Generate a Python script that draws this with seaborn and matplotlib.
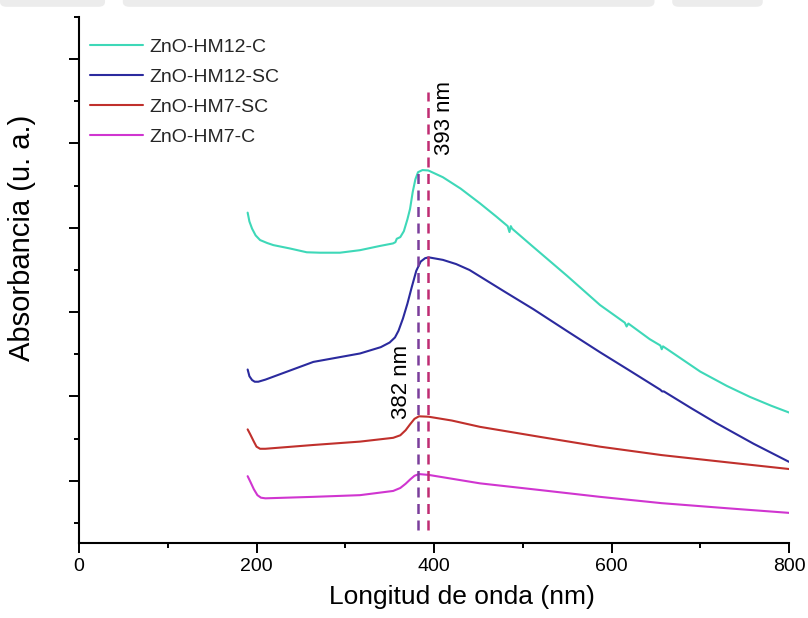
import matplotlib
matplotlib.use("Agg")
import matplotlib.pyplot as plt
from matplotlib.patches import FancyBboxPatch
from matplotlib.ticker import FixedLocator, MultipleLocator, NullFormatter
import pandas as pd
import seaborn as sns

# UV-Vis spectra (absorbance in arbitrary units)
wl_hm12_c = [190, 192, 195, 199, 204, 212, 219, 237.7, 256.6, 271.5, 294, 316.6, 339, 353.8,
             356.5, 358, 362, 366, 370, 373, 376, 379, 382, 387, 393.6, 410, 430, 451.8, 470,
             483, 485, 486.5, 488, 510, 550, 587, 615, 617, 619, 643, 655, 656.6, 658, 700,
             730, 756, 780, 800]
ab_hm12_c = [7.36, 7.15, 6.98, 6.82, 6.71, 6.64, 6.59, 6.51, 6.42, 6.41, 6.41, 6.47, 6.57, 6.63,
             6.66, 6.74, 6.78, 6.92, 7.20, 7.45, 7.85, 8.15, 8.32, 8.37, 8.36, 8.20, 7.93, 7.58,
             7.27, 7.04, 6.90, 7.04, 6.98, 6.58, 5.86, 5.17, 4.75, 4.66, 4.73, 4.36, 4.21, 4.12,
             4.19, 3.59, 3.25, 2.99, 2.78, 2.62]

wl_hm12_sc = [190, 192, 195, 198, 202, 210, 264, 316.6, 340, 350, 356, 360, 365, 370, 375, 380,
              385, 390, 394, 410, 425, 440, 460, 480, 512, 550, 587, 620, 655, 657, 659, 690,
              718, 760, 800]
ab_hm12_sc = [3.64, 3.48, 3.39, 3.35, 3.35, 3.40, 3.82, 4.02, 4.17, 4.28, 4.40, 4.56, 4.85, 5.20,
              5.60, 5.98, 6.20, 6.28, 6.30, 6.24, 6.14, 6.00, 5.74, 5.48, 5.07, 4.55, 4.05, 3.62,
              3.16, 3.12, 3.12, 2.72, 2.37, 1.88, 1.45]

wl_hm7_sc = [190, 193, 197, 200, 204, 210, 264, 316.6, 354, 362, 368, 373, 378, 383, 394, 420,
             451.8, 520, 587, 656.6, 730, 800]
ab_hm7_sc = [2.22, 2.10, 1.93, 1.81, 1.76, 1.76, 1.85, 1.93, 2.02, 2.08, 2.20, 2.34, 2.47, 2.53,
             2.52, 2.43, 2.28, 2.04, 1.81, 1.61, 1.44, 1.28]

wl_hm7_c = [190, 193, 197, 201, 205, 210, 264, 316.6, 354, 362, 368, 373, 378, 383, 394, 420,
            451.8, 520, 587, 656.6, 730, 800]
ab_hm7_c = [1.11, 0.98, 0.80, 0.66, 0.60, 0.585, 0.62, 0.66, 0.76, 0.83, 0.93, 1.03, 1.12, 1.16,
            1.14, 1.05, 0.94, 0.78, 0.62, 0.47, 0.35, 0.24]

labels = ["ZnO-HM12-C", "ZnO-HM12-SC", "ZnO-HM7-SC", "ZnO-HM7-C"]
colors = ["#3ED8B8", "#2B2A9E", "#C0302C", "#D035D0"]

# band-edge markers
peak_nm = [382, 393]
peak_top = [8.36, 10.21]
peak_bottom = [-0.17, -0.17]
peak_colors = ["#7A3E9C", "#C02C72"]
peak_text = ["382 nm", "393 nm"]
text_x = [363.6, 412]
text_y = [3.35, 9.6]

frames = []
for lab, wl, ab in zip(labels,
                       [wl_hm12_c, wl_hm12_sc, wl_hm7_sc, wl_hm7_c],
                       [ab_hm12_c, ab_hm12_sc, ab_hm7_sc, ab_hm7_c]):
    frames.append(pd.DataFrame({"wl": wl, "ab": ab, "muestra": lab}))
df = pd.concat(frames, ignore_index=True)

sns.set_style("ticks")
plt.rcParams["font.family"] = ["Liberation Sans", "DejaVu Sans"]

fig = plt.figure(figsize=(8.08, 6.18), dpi=100)
ax = fig.add_axes([0.0978, 0.1214, 0.8787, 0.8511])

# faint grey banner at the very top of the page
for x0, w in [(0.0, 0.13), (0.152, 0.658), (0.832, 0.112)]:
    fig.patches.append(FancyBboxPatch((x0, 0.989), w, 0.03, boxstyle="round,pad=0,rounding_size=0.008",
                                      transform=fig.transFigure, facecolor="#ECECEC",
                                      edgecolor="none", zorder=0))

sns.lineplot(data=df, x="wl", y="ab", hue="muestra", hue_order=labels, palette=colors,
             sort=False, estimator=None, linewidth=1.5, ax=ax)

for nm, top, bot, col in zip(peak_nm, peak_top, peak_bottom, peak_colors):
    ax.vlines(nm, bot, top, colors=col, linestyles=(0, (4, 2.6)), linewidth=1.8, zorder=3)

for t, tx, ty in zip(peak_text, text_x, text_y):
    ax.text(tx, ty, t, rotation=90, ha="center", va="center", fontsize=16, color="black")

ax.set_xlim(0, 800)
ax.set_ylim(-0.474, 12)
ax.xaxis.set_major_locator(MultipleLocator(200))
ax.xaxis.set_minor_locator(MultipleLocator(100))
ax.yaxis.set_major_locator(FixedLocator([1, 3, 5, 7, 9, 11]))
ax.yaxis.set_minor_locator(FixedLocator([0, 2, 4, 6, 8, 10, 12]))
ax.yaxis.set_major_formatter(NullFormatter())

ax.tick_params(axis="both", which="major", length=7, width=1.4, direction="out", labelsize=14,
               color="black", labelcolor="black")
ax.tick_params(axis="both", which="minor", length=3.5, width=1.4, direction="out", color="black")
ax.tick_params(axis="x", pad=4)

for side in ["left", "bottom"]:
    ax.spines[side].set_linewidth(1.5)
    ax.spines[side].set_color("black")
sns.despine(ax=ax)

ax.set_xlabel("Longitud de onda (nm)", fontsize=19, color="black")
ax.set_ylabel("Absorbancia (u. a.)", fontsize=21, color="black")
ax.xaxis.set_label_coords(0.54, -0.08)
ax.yaxis.set_label_coords(-0.06, 0.58)

leg = ax.legend(title=None, loc="upper left", bbox_to_anchor=(-0.004, 0.985), frameon=False,
                fontsize=14, handlelength=2.75, handletextpad=0.3, labelspacing=0.64,
                borderaxespad=0.3)
for line in leg.get_lines():
    line.set_linewidth(1.5)

fig.savefig("out.png", dpi=100, facecolor="white")
